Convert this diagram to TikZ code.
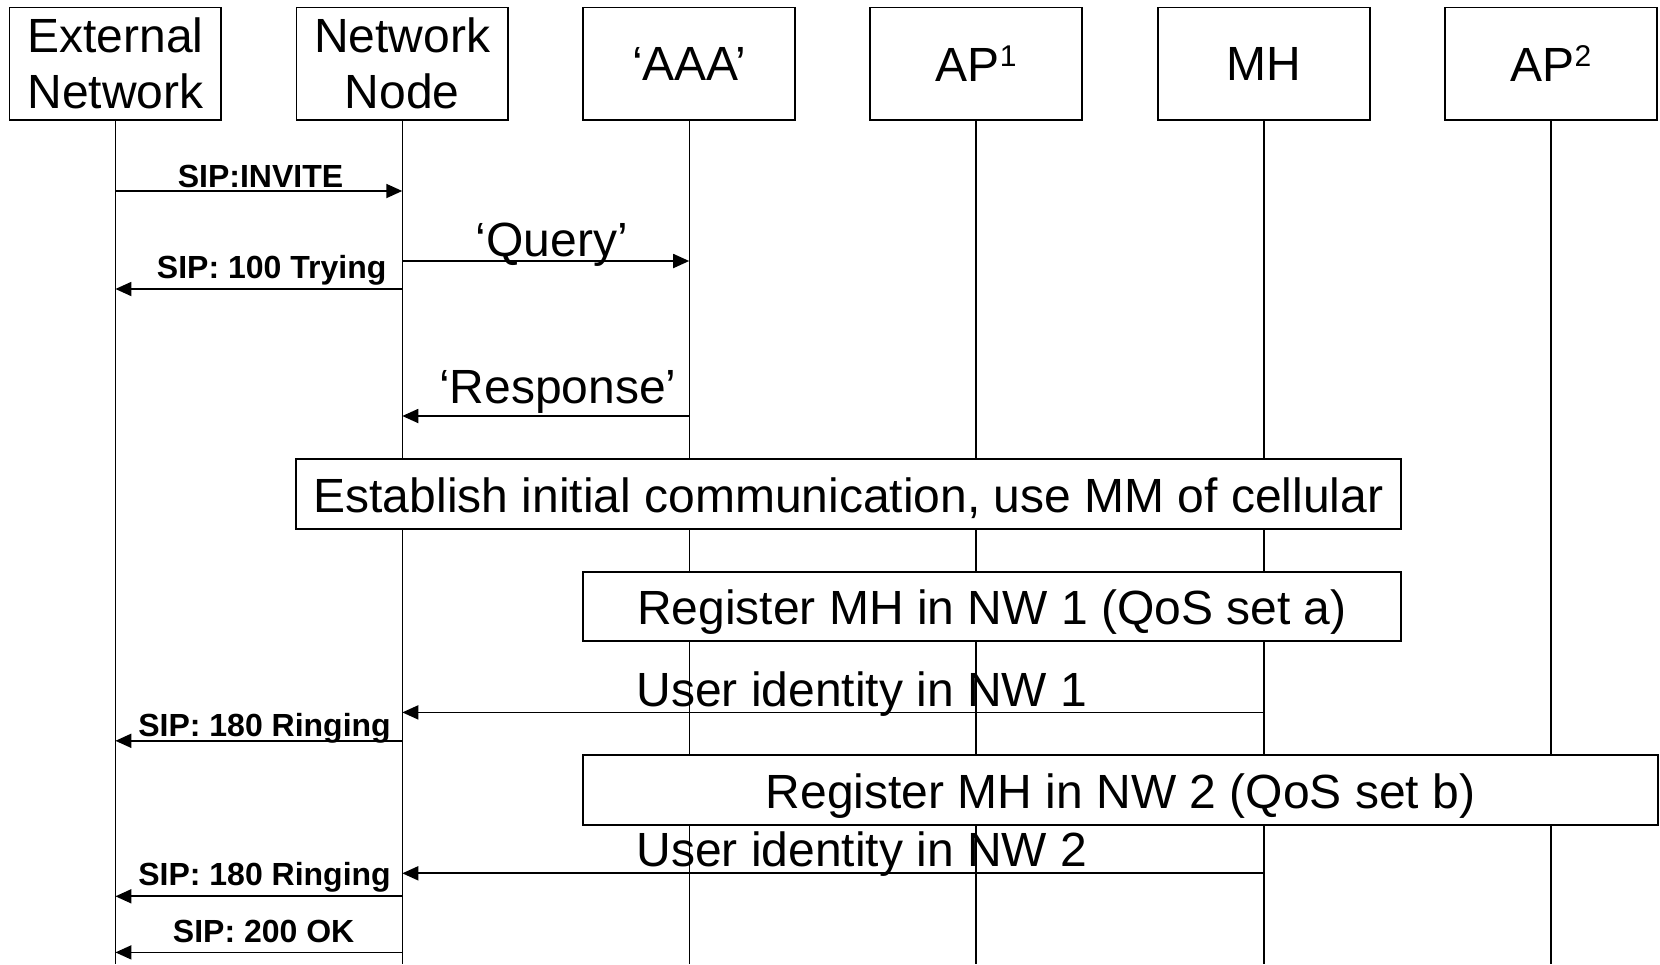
\documentclass[tikz,border=0pt]{standalone}
\usepackage{fontspec}
\setmainfont{Liberation Sans}
\usetikzlibrary{arrows.meta,calc}
\tikzset{
  head/.style={draw, line width=0.9pt, fill=white, minimum width=105.85pt,
    minimum height=56.1pt, inner sep=0pt, align=center,
    font=\fontsize{24}{28}\selectfont},
  life/.style={line width=0.7pt},
  msg/.style={line width=0.9pt, -{Triangle[length=8pt,width=7pt]}},
  big/.style={font=\fontsize{24}{28}\selectfont, inner sep=0pt},
  sig/.style={font=\bfseries\fontsize{16}{18}\selectfont, inner sep=0pt},
  phase/.style={draw, line width=0.9pt, fill=white, inner sep=0pt,
    text height=18.2pt, text depth=0pt,
    font=\fontsize{24}{28}\selectfont}
}
\newcommand{\supdigit}[1]{\raisebox{7.2pt}{\fontsize{15}{15}\selectfont #1}}
\begin{document}
\begin{tikzpicture}[x=0.5pt,y=-0.5pt]
\useasboundingbox (0,0) rectangle (1660,964);

% participants
\node[head] (ext) at (115.4,63.5)  {External\\Network};
\node[head] (nn)  at (402.3,63.5)  {Network\\Node};
\node[head] (aaa) at (689.2,63.5)  {‘AAA’};
\node[head] (ap1) at (976.1,63.5)  {AP\supdigit{1}};
\node[head] (mh)  at (1264.1,63.5) {MH};
\node[head] (ap2) at (1551.0,63.5) {AP\supdigit{2}};

% lifelines
\coordinate (bot) at (0,964);
\foreach \n in {ext,nn,aaa,ap1,mh,ap2}
  \draw[life] (\n.south) -- (\n.south |- bot);

% phases
\node[phase, minimum width=552.15pt, minimum height=34.95pt] (est) at (848.5,494.2)
  {Establish initial communication, use MM of cellular};
\node[phase, minimum width=408.7pt, minimum height=34.4pt] (reg1) at (992,606.7)
  {Register MH in NW 1 (QoS set a)};
\node[phase, minimum width=537.3pt, minimum height=34.9pt] (reg2) at (1120.6,789.8)
  {Register MH in NW 2 (QoS set b)};

% messages
\draw[msg] (ext |- 0,191) -- node[sig, anchor=base, yshift=2pt, xshift=0.8pt] {SIP:INVITE} (nn |- 0,191);
\draw[msg] (nn |- 0,261) -- node[big, anchor=base, yshift=2.4pt, xshift=3pt] {‘Query’} (aaa |- 0,261);
\draw[msg] (nn |- 0,289) -- node[sig, pos=0, anchor=base east, yshift=5.5pt, xshift=-7.5pt] {SIP: 100 Trying} (ext |- 0,289);
\draw[msg] (aaa |- 0,416) -- node[big, anchor=base, yshift=6.5pt, xshift=6pt] {‘Response’} (nn |- 0,416);

\draw[msg] (mh |- 0,712.4) -- (nn |- 0,712.4);
\node[big, anchor=base west] (ui1) at (636,706.7) {User identity in NW 1};
\draw[msg] (nn |- 0,740.8) -- node[sig, pos=0, anchor=base east, yshift=2.4pt, xshift=-5.3pt] {SIP: 180 Ringing} (ext |- 0,740.8);

\draw[msg] (mh |- 0,873.3) -- (nn |- 0,873.3);
\node[big, anchor=base west] (ui2) at (636,866.7) {User identity in NW 2};
\draw[msg] (nn |- 0,896.3) -- node[sig, pos=0, anchor=base east, yshift=5.5pt, xshift=-5.3pt] {SIP: 180 Ringing} (ext |- 0,896.3);
\draw[msg] (nn |- 0,952.4) -- node[sig, anchor=base, yshift=5pt, xshift=2.4pt] {SIP: 200 OK} (ext |- 0,952.4);
\end{tikzpicture}
\end{document}
